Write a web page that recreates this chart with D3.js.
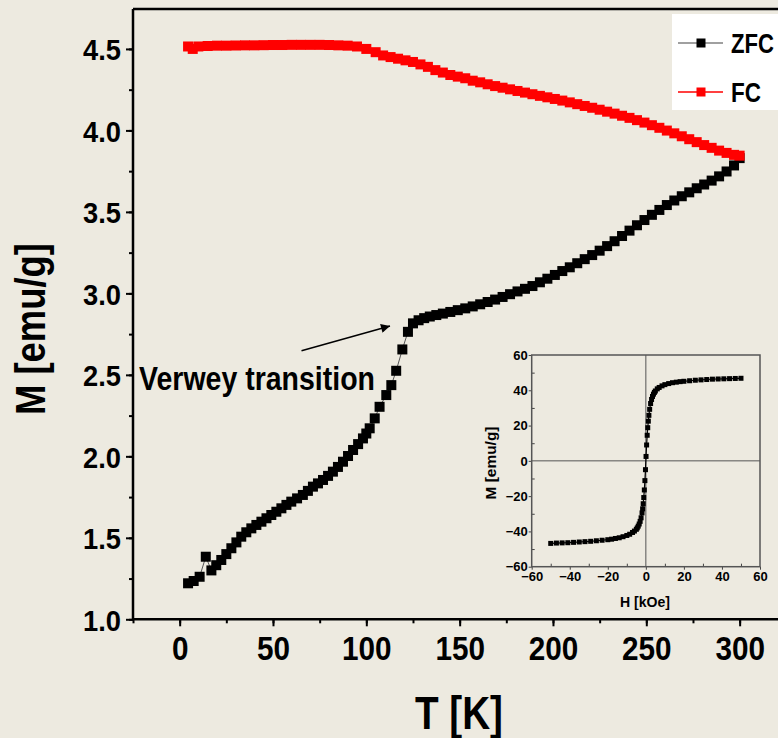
<!DOCTYPE html>
<html>
<head>
<meta charset="utf-8">
<script src="https://cdn.jsdelivr.net/npm/d3@7"></script>
<style>
  html, body { margin: 0; padding: 0; background: #edeae0; }
  svg { display: block; }
  text { font-family: "Liberation Sans", Arial, sans-serif; font-weight: bold; fill: #000; }
</style>
</head>
<body>
<script>
// ---------- DATA ----------
const zfcT = [4.5,7.5,10.7,14,17,19.6,22.3,25,27.7,30.4,33,35.7,38.4,41.1,43.8,46.5,49.1,51.8,54.5,57.2,59.8,62.9,66,68.7,71.4,74.1,76.8,79.5,82.1,84.8,87.5,90.2,92.9,95.6,98.2,100,101.8,104.5,107.1,110.7,113.4,116,119.3,122.3,125,128,131,134,137.5,141,145,149,153,157,161,165,169,173,177,181,185,189,193,197,201,205,209,213,217,221,225,229,233,237,241,245,249,253,257,261,265,269,273,277,281,285,289,293,297,300];
const zfcM = [1.221,1.235,1.261,1.384,1.30,1.332,1.364,1.40,1.436,1.472,1.507,1.534,1.558,1.579,1.599,1.62,1.64,1.66,1.681,1.702,1.722,1.742,1.763,1.788,1.814,1.834,1.855,1.88,1.906,1.935,1.967,2.002,2.039,2.075,2.11,2.14,2.172,2.233,2.304,2.376,2.437,2.525,2.656,2.764,2.816,2.835,2.848,2.858,2.867,2.876,2.886,2.897,2.908,2.92,2.933,2.947,2.962,2.978,2.995,3.012,3.028,3.045,3.068,3.09,3.113,3.137,3.16,3.185,3.21,3.235,3.262,3.29,3.32,3.352,3.385,3.418,3.45,3.482,3.512,3.542,3.57,3.596,3.62,3.645,3.668,3.692,3.718,3.748,3.785,3.83];

const fcT = [4.5,7,10,15,20,25,30,35,40,45,50,55,60,65,70,75,80,85,90,95,100,105,109,113,117,121,125,129,133,137,141,145,149,153,157,161,165,169,173,177,181,185,189,193,197,201,205,209,213,217,221,225,229,233,237,241,245,249,253,257,261,265,269,273,277,281,285,289,293,297,300];
const fcM = [4.515,4.50,4.515,4.518,4.52,4.52,4.521,4.522,4.522,4.523,4.524,4.524,4.525,4.525,4.525,4.525,4.524,4.522,4.52,4.515,4.50,4.48,4.46,4.45,4.44,4.43,4.42,4.405,4.39,4.37,4.355,4.34,4.33,4.32,4.305,4.295,4.283,4.272,4.262,4.252,4.242,4.232,4.222,4.212,4.203,4.193,4.183,4.172,4.161,4.15,4.139,4.127,4.115,4.103,4.09,4.077,4.063,4.048,4.032,4.016,3.999,3.982,3.964,3.946,3.928,3.91,3.893,3.876,3.862,3.85,3.845];

const xTicks = [0,50,100,150,200,250,300];
const yTicks = [1.0,1.5,2.0,2.5,3.0,3.5,4.0,4.5];

const insetH = [-50,-47,-44,-41,-38,-35,-32,-29,-26,-23,-20,-18,-16,-14,-12,-10,-8.5,-7,-6,-5,-4.5,-4,-3.5,-3,-2.5,-2,-1.7,-1.4,-1.1,-0.8,-0.5,-0.2,0.1,0.4,0.7,1.0,1.3,1.6,2.0,2.5,3,3.5,4,4.5,5,6,7,8.5,10,12,14,16,18,20,23,26,29,32,35,38,41,44,47,50];
const insetM = [-46.8,-46.6,-46.5,-46.4,-46.2,-46.0,-45.8,-45.6,-45.3,-45.0,-44.7,-44.4,-44.0,-43.6,-43.0,-42.3,-41.6,-40.6,-39.8,-38.8,-38.0,-37.0,-35.8,-34.3,-32.3,-29.5,-27.2,-24.3,-20.8,-16.5,-11.2,-5.0,2.5,9.0,14.5,18.8,22.5,25.8,29.2,32.5,34.8,36.5,37.8,38.8,39.6,40.8,41.6,42.5,43.2,43.8,44.3,44.6,44.9,45.1,45.4,45.7,45.9,46.1,46.3,46.4,46.5,46.6,46.7,46.8];
const insetTicks = [-60,-40,-20,0,20,40,60];

const seriesNames = ["ZFC", "FC"];

// ---------- SETUP ----------
const W = 778, H = 738;
const svg = d3.select("body").append("svg").attr("width", W).attr("height", H);
svg.append("rect").attr("width", W).attr("height", H).attr("fill", "#edeae0");

const x = d3.scaleLinear().domain([-25, 325]).range([133, 786.3]);
const y = d3.scaleLinear().domain([1.0, 4.745]).range([619.3, 9]);

// ---------- AXES ----------
const xAxisG = svg.append("g").attr("transform", "translate(0,619.3)");
const yAxisG = svg.append("g").attr("transform", "translate(133,0)");

// minor ticks
xAxisG.call(d3.axisBottom(x).tickValues(d3.range(-25, 326, 25)).tickSize(4).tickFormat(""))
  .call(g => g.select(".domain").remove())
  .call(g => g.selectAll("line").attr("stroke-width", 2));
yAxisG.call(d3.axisLeft(y).tickValues(d3.range(1.0, 4.75, 0.25)).tickSize(4).tickFormat(""))
  .call(g => g.select(".domain").remove())
  .call(g => g.selectAll("line").attr("stroke-width", 2));

// major ticks + labels
const xMaj = svg.append("g").attr("transform", "translate(0,619.3)")
  .call(d3.axisBottom(x).tickValues(xTicks).tickSize(7).tickPadding(10).tickFormat(d3.format("d")));
xMaj.select(".domain").remove();
xMaj.selectAll("line").attr("stroke-width", 2);
xMaj.selectAll("text").attr("font-size", 33).attr("font-family", "Liberation Sans, Arial, sans-serif")
  .attr("font-weight", "bold").attr("dy", null).attr("y", 0)
  .attr("transform", "translate(0,41) scale(0.9,1)");

const yMaj = svg.append("g").attr("transform", "translate(133,0)")
  .call(d3.axisLeft(y).tickValues(yTicks).tickSize(7).tickPadding(12).tickFormat(d3.format(".1f")));
yMaj.select(".domain").remove();
yMaj.selectAll("line").attr("stroke-width", 2);
yMaj.selectAll("text").attr("font-size", 30).attr("font-family", "Liberation Sans, Arial, sans-serif")
  .attr("font-weight", "bold").attr("x", 0).attr("dy", "0.36em")
  .attr("transform", "translate(-12,0) scale(0.91,1)");

// frame lines
svg.append("line").attr("x1", 133).attr("x2", 800).attr("y1", 619.3).attr("y2", 619.3).attr("stroke", "#000").attr("stroke-width", 2.5);
svg.append("line").attr("x1", 133).attr("x2", 133).attr("y1", 9).attr("y2", 619.3).attr("stroke", "#000").attr("stroke-width", 2.5);
svg.append("line").attr("x1", 133).attr("x2", 800).attr("y1", 9).attr("y2", 9).attr("stroke", "#000").attr("stroke-width", 2.5);

// axis titles
svg.append("text").attr("x", 459).attr("y", 729).attr("text-anchor", "middle")
  .attr("font-size", 46).attr("textLength", 88).attr("lengthAdjust", "spacingAndGlyphs").text("T [K]");
svg.append("text").attr("transform", "translate(45,329) rotate(-90)").attr("text-anchor", "middle")
  .attr("font-size", 43).attr("textLength", 172).attr("lengthAdjust", "spacingAndGlyphs").text("M [emu/g]");

// ---------- DATA MARKS ----------
const zfc = zfcT.map((t, i) => ({t, m: zfcM[i]}));
const fc = fcT.map((t, i) => ({t, m: fcM[i]}));
const line = d3.line().x(d => x(d.t)).y(d => y(d.m));
const S = 10;

svg.append("path").datum(zfc).attr("d", line).attr("fill", "none").attr("stroke", "#555").attr("stroke-width", 1);
svg.append("g").selectAll("rect").data(zfc).join("rect")
  .attr("x", d => x(d.t) - S/2).attr("y", d => y(d.m) - S/2)
  .attr("width", S).attr("height", S).attr("fill", "#000");

svg.append("path").datum(fc).attr("d", line).attr("fill", "none").attr("stroke", "#ff0000").attr("stroke-width", 1);
svg.append("g").selectAll("rect").data(fc).join("rect")
  .attr("x", d => x(d.t) - S/2).attr("y", d => y(d.m) - S/2)
  .attr("width", S).attr("height", S).attr("fill", "#ff0000");

// ---------- ANNOTATION ----------
svg.append("defs").append("marker").attr("id", "ah").attr("viewBox", "0 0 10 10")
  .attr("refX", 10).attr("refY", 5).attr("markerWidth", 14).attr("markerHeight", 9)
  .attr("markerUnits", "userSpaceOnUse").attr("orient", "auto")
  .append("path").attr("d", "M0,0 L10,5 L0,10 Z").attr("fill", "#000");
svg.append("line").attr("x1", 301.5).attr("y1", 350.7).attr("x2", 390).attr("y2", 326)
  .attr("stroke", "#000").attr("stroke-width", 1.5).attr("marker-end", "url(#ah)");
svg.append("text").attr("x", 139).attr("y", 390).attr("font-size", 33)
  .attr("textLength", 236).attr("lengthAdjust", "spacingAndGlyphs").text("Verwey transition");

// ---------- LEGEND ----------
const lg = svg.append("g");
lg.append("rect").attr("x", 672).attr("y", 14).attr("width", 120).attr("height", 96).attr("fill", "#fff");
const legendRows = [
  {name: seriesNames[0], line: "#808080", mark: "#000", y: 43},
  {name: seriesNames[1], line: "#ff0000", mark: "#ff0000", y: 92}
];
legendRows.forEach(r => {
  lg.append("line").attr("x1", 678).attr("x2", 723).attr("y1", r.y).attr("y2", r.y).attr("stroke", r.line).attr("stroke-width", 1.5);
  lg.append("rect").attr("x", 701 - 4.5).attr("y", r.y - 4.5).attr("width", 9).attr("height", 9).attr("fill", r.mark);
  lg.append("text").attr("x", 731).attr("y", r.y + 10).attr("font-size", 28)
    .attr("textLength", r.name === "ZFC" ? 43 : 30).attr("lengthAdjust", "spacingAndGlyphs").text(r.name);
});

// ---------- INSET ----------
const ix = d3.scaleLinear().domain([-60, 60]).range([531.7, 760]);
const iy = d3.scaleLinear().domain([-60, 60]).range([566.7, 355]);
const ins = svg.append("g");

// minor ticks (inside)
ins.append("g").attr("transform", "translate(0,566.7)")
  .call(d3.axisTop(ix).tickValues(d3.range(-50, 60, 20)).tickSize(3).tickFormat(""))
  .call(g => g.select(".domain").remove()).call(g => g.selectAll("line").attr("stroke", "#444"));
ins.append("g").attr("transform", "translate(531.7,0)")
  .call(d3.axisRight(iy).tickValues(d3.range(-50, 60, 20)).tickSize(3).tickFormat(""))
  .call(g => g.select(".domain").remove()).call(g => g.selectAll("line").attr("stroke", "#444"));

const ixa = ins.append("g").attr("transform", "translate(0,566.7)")
  .call(d3.axisBottom(ix).tickValues(insetTicks).tickSize(3).tickPadding(2).tickFormat(d3.format("d")));
ixa.select(".domain").remove();
ixa.selectAll("line").attr("stroke", "#444");
ixa.selectAll("text").attr("font-size", 13).attr("font-weight", "bold").attr("font-family", "Liberation Sans, Arial, sans-serif");

const iya = ins.append("g").attr("transform", "translate(531.7,0)")
  .call(d3.axisLeft(iy).tickValues(insetTicks).tickSize(3).tickPadding(1).tickFormat(d3.format("d")));
iya.select(".domain").remove();
iya.selectAll("line").attr("stroke", "#444");
iya.selectAll("text").attr("font-size", 13).attr("font-weight", "bold").attr("font-family", "Liberation Sans, Arial, sans-serif");

// zero lines
ins.append("line").attr("x1", ix(0)).attr("x2", ix(0)).attr("y1", iy(60)).attr("y2", iy(-60)).attr("stroke", "#555").attr("stroke-width", 1);
ins.append("line").attr("x1", ix(-60)).attr("x2", ix(60)).attr("y1", iy(0)).attr("y2", iy(0)).attr("stroke", "#555").attr("stroke-width", 1);
// frame
ins.append("rect").attr("x", ix(-60)).attr("y", iy(60)).attr("width", ix(60) - ix(-60)).attr("height", iy(-60) - iy(60))
  .attr("fill", "none").attr("stroke", "#555").attr("stroke-width", 1.5);

const hyst = insetH.map((h, i) => ({h, m: insetM[i]}));
ins.append("path").datum(hyst).attr("d", d3.line().x(d => ix(d.h)).y(d => iy(d.m)))
  .attr("fill", "none").attr("stroke", "#000").attr("stroke-width", 1.2);
ins.append("g").selectAll("rect").data(hyst).join("rect")
  .attr("x", d => ix(d.h) - 2.5).attr("y", d => iy(d.m) - 2.5).attr("width", 5).attr("height", 5).attr("fill", "#000");

ins.append("text").attr("x", 645).attr("y", 607).attr("text-anchor", "middle").attr("font-size", 15)
  .attr("textLength", 50).attr("lengthAdjust", "spacingAndGlyphs").text("H [kOe]");
ins.append("text").attr("transform", "translate(496,463) rotate(-90)").attr("text-anchor", "middle").attr("font-size", 15)
  .attr("textLength", 73).attr("lengthAdjust", "spacingAndGlyphs").text("M [emu/g]");
</script>
</body>
</html>
